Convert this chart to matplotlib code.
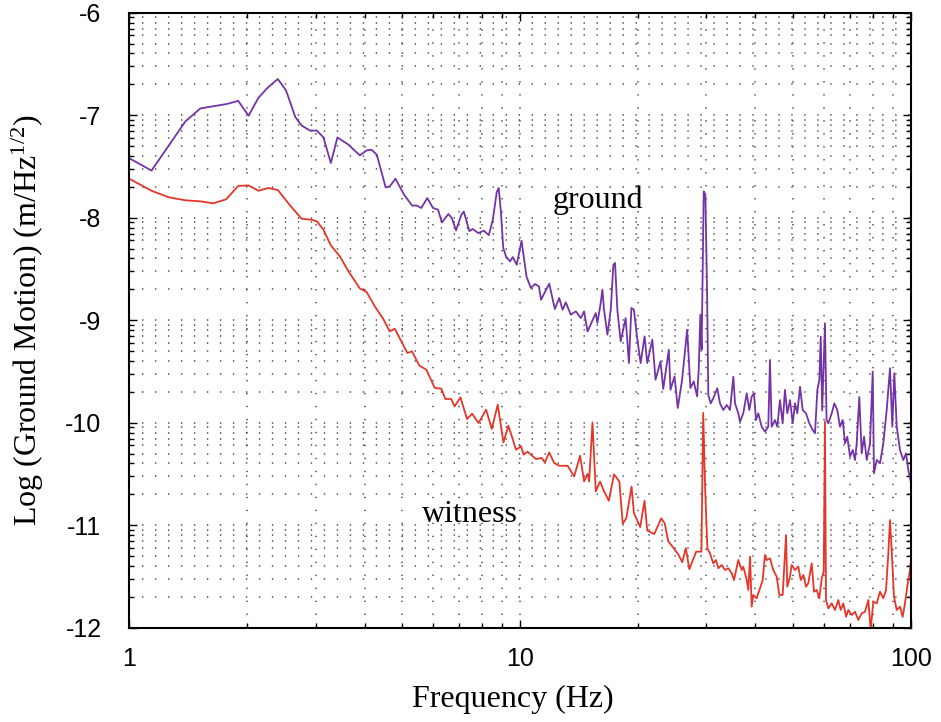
import numpy as np
import matplotlib
matplotlib.use('Agg')
import matplotlib.pyplot as plt
from matplotlib.ticker import LogLocator, FuncFormatter, NullFormatter

#---------------------------------------------------------------------#
# Ground motion spectra. Values are log10 of the #
# amplitude spectral density (m/Hz^1/2) at each frequency (Hz).       #
#---------------------------------------------------------------------#
groundFreq = [1.0, 1.14, 1.392, 1.52, 1.78, 1.90, 2.02, 2.14, 2.27, 2.40,
              2.52, 2.66, 2.76, 2.90, 3.02, 3.14, 3.28, 3.41, 3.64, 3.89,
              4.05, 4.17, 4.30, 4.53, 4.64, 4.80, 5.05, 5.30, 5.43, 5.59,
              5.79, 5.99, 6.17, 6.31, 6.56, 6.69, 6.86, 7.08, 7.18, 7.42,
              7.57, 7.82, 8.08, 8.32, 8.52, 8.72, 8.82, 8.94, 9.06, 9.21,
              9.43, 9.58, 9.81, 10.09, 10.39, 10.66, 10.92, 11.18, 11.32, 11.88,
              12.28, 12.6, 12.85, 13.1, 13.49, 13.9, 14.31, 14.59, 14.89, 15.63,
              15.78, 16.09, 16.25, 16.41, 16.74, 17.07, 17.34, 17.51, 17.75, 18.1,
              18.64, 19.0, 19.28, 19.57, 19.97, 20.36, 20.84, 21.17, 21.81, 22.23,
              22.89, 23.26, 24.04, 24.28, 24.86, 25.34, 26.0, 26.78, 27.3, 27.84,
              28.4, 28.67, 28.95, 29.17, 29.53, 29.82, 30.12, 30.34, 30.77, 31.24,
              31.99, 32.5, 33.14, 33.82, 34.48, 35.16, 35.51, 36.2, 36.57, 37.28,
              38.05, 38.63, 39.17, 39.71, 40.18, 40.73, 41.55, 42.37, 43.2, 43.63,
              44.07, 44.94, 45.55, 46.28, 47.02, 47.66, 48.32, 49.1, 49.89, 50.57,
              51.26, 52.08, 52.91, 53.95, 55.02, 56.13, 56.9, 57.68, 58.36, 58.85,
              59.35, 60.33, 60.9, 61.53, 62.79, 63.76, 64.88, 65.92, 66.98, 67.9,
              68.83, 69.93, 71.05, 72.02, 72.74, 73.87, 74.92, 75.96, 77.18, 78.68,
              79.94, 80.54, 81.85, 83.45, 85.1, 86.82, 88.51, 89.73, 90.79, 92.1,
              93.88, 95.74, 97.28, 98.6, 100.0]
groundLog  = [-7.42, -7.54, -7.06, -6.934, -6.89, -6.86, -7.005, -6.83, -6.725, -6.647,
              -6.76, -7.018, -7.10, -7.15, -7.15, -7.217, -7.466, -7.217, -7.288, -7.392,
              -7.343, -7.337, -7.385, -7.704, -7.695, -7.62, -7.776, -7.883, -7.88, -7.905,
              -7.808, -7.905, -7.922, -8.046, -7.964, -8.003, -8.124, -7.97, -7.94, -8.13,
              -8.11, -8.15, -8.127, -8.17, -8.02, -7.749, -7.71, -7.954, -8.296, -8.378,
              -8.426, -8.384, -8.459, -8.224, -8.573, -8.686, -8.647, -8.67, -8.80, -8.644,
              -8.891, -8.783, -8.898, -8.826, -8.946, -8.914, -8.979, -8.914, -9.11, -8.93,
              -9.027, -8.832, -8.702, -8.898, -9.141, -8.898, -8.459, -8.442, -8.898, -9.207,
              -8.979, -9.418, -8.881, -8.898, -9.19, -9.418, -9.158, -9.418, -9.19, -9.58,
              -9.402, -9.671, -9.288, -9.678, -9.548, -9.857, -9.58, -9.093, -9.661, -9.597,
              -9.743, -9.483, -8.946, -9.288, -7.743, -7.776, -8.735, -9.73, -9.811, -9.762,
              -9.664, -9.811, -9.876, -9.827, -9.876, -9.551, -9.811, -9.908, -9.99, -9.908,
              -9.713, -9.876, -9.746, -9.713, -9.974, -9.908, -10.039, -10.088, -10.039, -9.388,
              -10.039, -9.974, -10.039, -9.779, -10.006, -9.68, -9.908, -9.779, -10.006, -9.811,
              -9.908, -9.649, -9.876, -9.908, -10.006, -10.071, -10.103, -9.681, -9.583, -9.16,
              -9.88, -9.03, -9.97, -10.006, -9.908, -9.811, -9.876, -10.039, -9.974, -10.201,
              -10.137, -10.332, -10.266, -10.364, -10.201, -9.75, -10.299, -10.137, -10.364, -10.201,
              -9.502, -10.494, -10.364, -10.396, -10.201, -9.876, -9.469, -10.039, -9.518, -10.039,
              -10.266, -10.364, -10.299, -10.462, -10.57]

witnessFreq = [1.0, 1.14, 1.26, 1.39, 1.52, 1.64, 1.77, 1.90, 2.02, 2.14,
               2.27, 2.40, 2.57, 2.76, 2.93, 3.02, 3.14, 3.28, 3.46, 3.64,
               3.89, 4.05, 4.25, 4.47, 4.64, 4.78, 4.97, 5.15, 5.29, 5.53,
               5.76, 6.05, 6.29, 6.44, 6.67, 6.80, 7.04, 7.32, 7.54, 7.83,
               8.19, 8.47, 8.77, 9.07, 9.34, 9.77, 10.06, 10.22, 10.46, 10.98,
               11.36, 11.58, 11.88, 12.23, 12.60, 13.24, 13.76, 14.25, 14.59, 14.89,
               15.03, 15.33, 15.63, 16.03, 16.41, 16.88, 17.4, 17.96, 18.32, 18.71,
               19.3, 19.57, 20.31, 20.83, 21.17, 22.06, 22.99, 23.47, 23.95, 24.72,
               25.48, 26.02, 26.57, 27.13, 28.25, 29.13, 29.44, 29.75, 30.17, 30.64,
               31.24, 31.75, 32.18, 32.83, 33.48, 34.13, 34.83, 35.3, 36.2, 36.93,
               37.28, 38.05, 38.4, 38.8, 39.17, 39.54, 40.34, 41.14, 41.8, 42.37,
               42.8, 43.63, 44.5, 45.4, 46.1, 47.02, 47.96, 48.32, 49.1, 49.59,
               50.57, 51.56, 52.3, 53.12, 53.95, 54.68, 55.8, 56.56, 57.47, 58.36,
               59.19, 59.9, 60.33, 60.7, 61.53, 62.79, 64.02, 65.28, 66.21, 67.24,
               68.32, 69.25, 70.64, 72.02, 73.44, 74.92, 76.38, 77.89, 78.99, 80.22,
               81.85, 83.45, 85.1, 86.47, 87.65, 88.51, 89.4, 90.62, 92.1, 93.88,
               95.39, 96.68, 98.0, 99.6, 100.0]
witnessLog  = [-7.62, -7.737, -7.80, -7.83, -7.84, -7.86, -7.82, -7.69, -7.685, -7.737,
               -7.71, -7.73, -7.873, -8.01, -8.02, -8.035, -8.117, -8.27, -8.378, -8.524,
               -8.69, -8.725, -8.865, -8.99, -9.109, -9.083, -9.207, -9.32, -9.304, -9.444,
               -9.483, -9.661, -9.668, -9.769, -9.769, -9.841, -9.753, -9.964, -9.912, -10.003,
               -9.873, -10.061, -9.824, -10.192, -10.029, -10.263, -10.231, -10.312, -10.283, -10.354,
               -10.344, -10.387, -10.29, -10.393, -10.42, -10.42, -10.524, -10.322, -10.573, -10.498,
               -10.573, -9.997, -10.67, -10.574, -10.67, -10.762, -10.504, -10.574, -10.984, -10.933,
               -10.624, -10.881, -11.018, -10.762, -11.052, -11.087, -10.933, -10.984, -11.155, -11.223,
               -11.292, -11.361, -11.223, -11.429, -11.258, -11.258, -9.905, -10.6, -11.225, -11.274,
               -11.372, -11.34, -11.42, -11.388, -11.437, -11.42, -11.469, -11.535, -11.34, -11.437,
               -11.404, -11.535, -11.632, -11.307, -11.795, -11.681, -11.713, -11.616, -11.535, -11.291,
               -11.34, -11.323, -11.437, -11.502, -11.681, -11.681, -11.096, -11.6, -11.502, -11.388,
               -11.437, -11.404, -11.535, -11.486, -11.6, -11.567, -11.372, -11.649, -11.632, -11.713,
               -11.518, -11.45, -9.987, -11.73, -11.811, -11.762, -11.827, -11.73, -11.827, -11.762,
               -11.893, -11.827, -11.876, -11.844, -11.924, -11.86, -11.844, -11.73, -12.02, -11.746,
               -11.762, -11.649, -11.713, -11.632, -11.274, -10.95, -11.242, -11.698, -11.827, -11.795,
               -11.893, -11.762, -11.6, -11.437, -11.372]

yTickExp   = [-12, -11, -10, -9, -8, -7, -6]
xTicks     = [1, 10, 100]

def generatePlot():
  serif = 'Liberation Serif'
  sans  = 'Liberation Sans'
  plt.rcParams['mathtext.fontset'] = 'custom'
  plt.rcParams['mathtext.rm'] = serif
  plt.rcParams['mathtext.it'] = serif + ':italic'

  fig = plt.figure(figsize = (9.41, 7.22), dpi = 100)
  ax  = fig.add_axes([0.1374, 0.1306, 0.8304, 0.8518])

  ax.plot(groundFreq, 10.0 ** np.array(groundLog), color = '#7433a6', linewidth = 1.3)
  ax.plot(witnessFreq, 10.0 ** np.array(witnessLog), color = '#e5362a', linewidth = 1.3)

  ax.set_xscale('log')
  ax.set_yscale('log')
  ax.set_xlim(1, 100)
  ax.set_ylim(1e-12, 1e-6)

  #-------------------------------------------------------------------#
  # Log axes, labelled with the exponent only                         #
  #-------------------------------------------------------------------#
  ax.set_xticks(xTicks)
  ax.xaxis.set_minor_locator(LogLocator(base = 10, subs = np.arange(2, 10), numticks = 20))
  ax.xaxis.set_major_formatter(FuncFormatter(lambda v, p: '%g' % v))
  ax.xaxis.set_minor_formatter(NullFormatter())
  ax.set_yticks([10.0 ** e for e in yTickExp])
  ax.yaxis.set_minor_locator(LogLocator(base = 10, subs = np.arange(2, 10), numticks = 20))
  ax.yaxis.set_major_formatter(FuncFormatter(lambda v, p: '%d' % round(np.log10(v))))
  ax.yaxis.set_minor_formatter(NullFormatter())

  ax.tick_params(which = 'both', direction = 'in', top = True, right = True, width = 1.0)
  ax.tick_params(which = 'major', length = 6)
  ax.tick_params(which = 'minor', length = 3.5)
  ax.tick_params(axis = 'y', which = 'major', pad = 20, labelsize = 18)
  ax.tick_params(axis = 'x', which = 'major', pad = 14, labelsize = 18)
  for lab in ax.get_xticklabels() + ax.get_yticklabels():
    lab.set_fontfamily(sans)
  for sp in ax.spines.values():
    sp.set_linewidth(1.5)

  ax.grid(which = 'both', color = '#4a4a4a', linestyle = (0, (0.9, 7.6)), linewidth = 1.1)

  ax.set_xlabel('Frequency (Hz)', fontfamily = serif, fontsize = 23)
  ax.set_ylabel(r'Log (Ground Motion) (m/Hz$^{1/2}$)', fontfamily = serif, fontsize = 23)
  ax.xaxis.set_label_coords(0.491, -0.093)
  ax.yaxis.set_label_coords(-0.106, 0.5)

  ax.text(15.8, 10.0 ** -7.83, 'ground', fontfamily = serif, fontsize = 23,
          ha = 'center', va = 'center')
  ax.text(7.45, 10.0 ** -10.9, 'witness', fontfamily = serif, fontsize = 23,
          ha = 'center', va = 'center')

  fig.savefig('out.png', dpi = 100)

if __name__ == '__main__':
  generatePlot()
